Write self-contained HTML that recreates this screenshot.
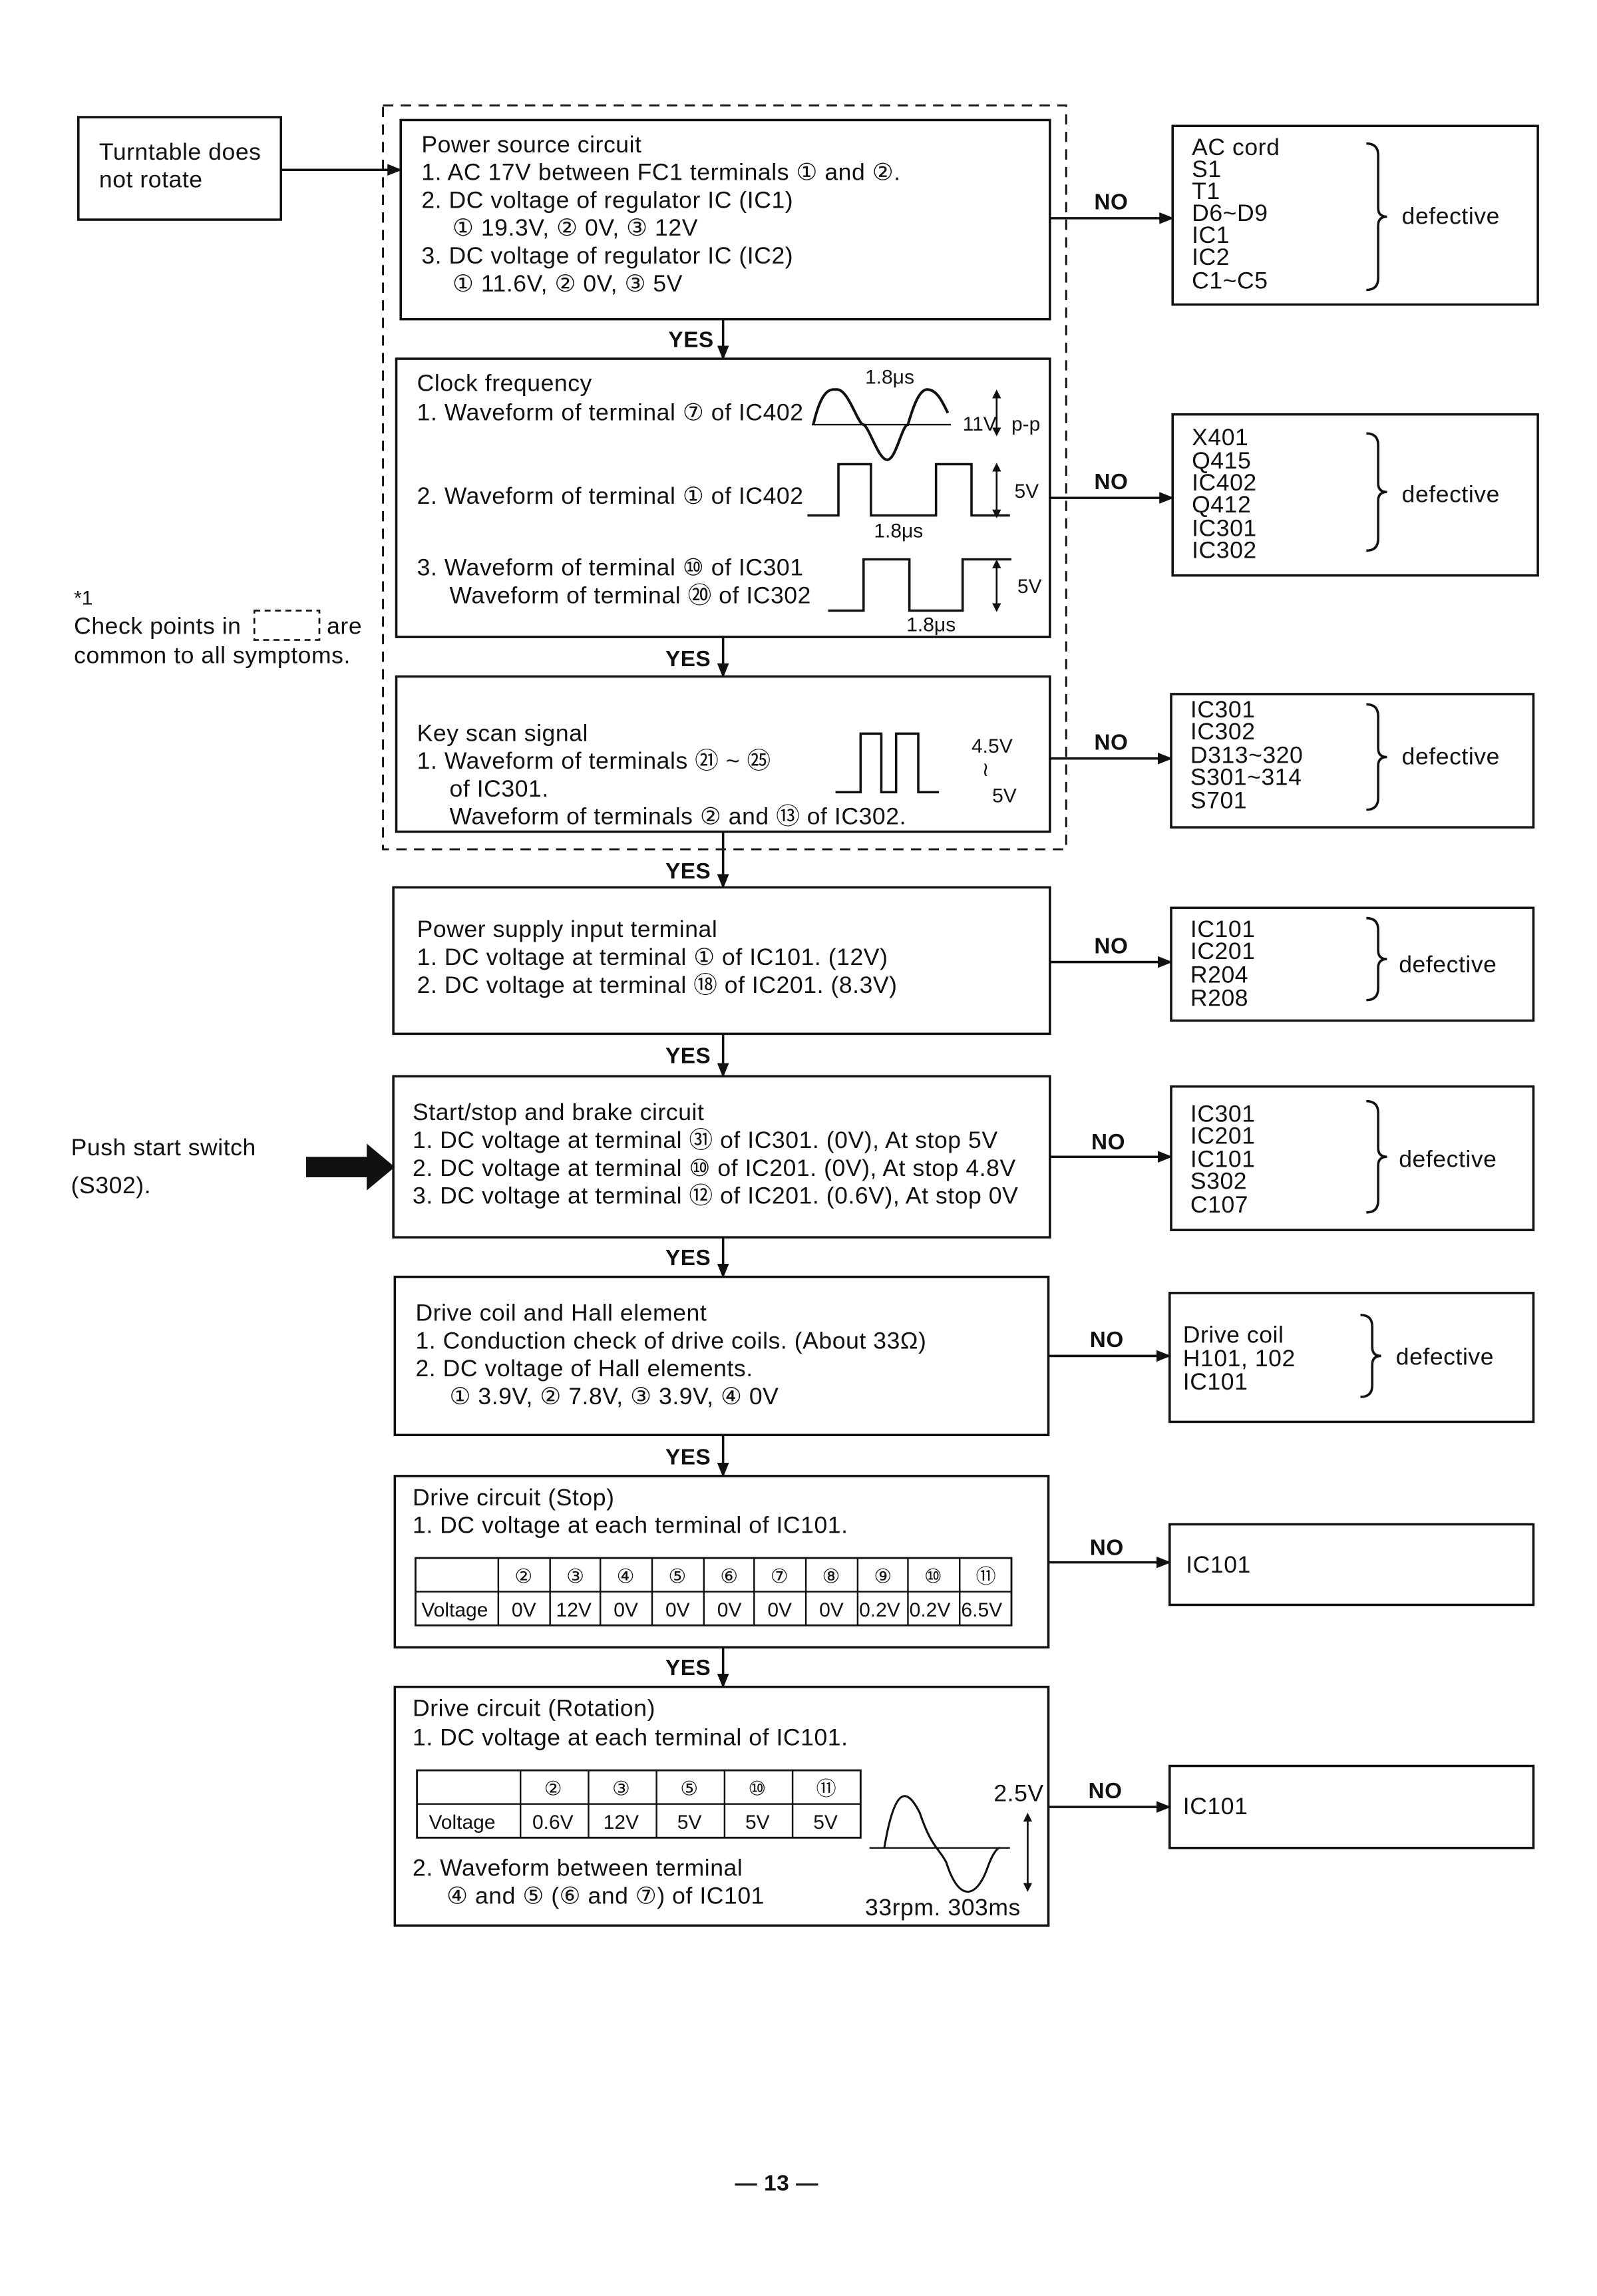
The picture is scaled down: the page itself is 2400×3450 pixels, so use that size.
<!DOCTYPE html>
<html><head><meta charset="utf-8"><style>
html,body{margin:0;padding:0;background:#fff}
svg{display:block}
text{font-family:"Liberation Sans","DejaVu Sans",sans-serif;font-size:16px;letter-spacing:0.25px;fill:#111}
.b{font-weight:bold;font-size:15px}
.s{font-size:13.5px;letter-spacing:0}
</style></head><body>
<svg width="2400" height="3450" viewBox="0 0 1080 1568" preserveAspectRatio="none" xml:space="preserve" xmlns="http://www.w3.org/2000/svg">
<defs><marker id="a" markerWidth="10" markerHeight="8" refX="9" refY="4" orient="auto" markerUnits="userSpaceOnUse"><path d="M0,0 L10,4 L0,8z" fill="#111"/></marker></defs>
<g fill="none" stroke="#111" stroke-width="1.6">
<rect x="259" y="72" width="462" height="508" stroke-dasharray="7,5" stroke-width="1.3"/>
<rect x="53" y="80" width="137" height="70"/>
<rect x="271" y="82" width="439" height="136"/>
<rect x="268" y="245" width="442" height="190"/>
<rect x="268" y="462" width="442" height="106"/>
<rect x="266" y="606" width="444" height="100"/>
<rect x="266" y="735" width="444" height="110"/>
<rect x="267" y="872" width="442" height="108"/>
<rect x="267" y="1008" width="442" height="117"/>
<rect x="267" y="1152" width="442" height="163"/>
<rect x="793" y="86" width="247" height="122"/>
<rect x="793" y="283" width="247" height="110"/>
<rect x="792" y="474" width="245" height="91"/>
<rect x="792" y="620" width="245" height="77"/>
<rect x="792" y="742" width="245" height="98"/>
<rect x="791" y="883" width="246" height="88"/>
<rect x="791" y="1041" width="246" height="55"/>
<rect x="791" y="1206" width="246" height="56"/>
<line x1="190" y1="116" x2="271" y2="116" marker-end="url(#a)"/>
<line x1="710" y1="149" x2="793" y2="149" marker-end="url(#a)"/>
<line x1="710" y1="340" x2="793" y2="340" marker-end="url(#a)"/>
<line x1="710" y1="518" x2="792" y2="518" marker-end="url(#a)"/>
<line x1="710" y1="657" x2="792" y2="657" marker-end="url(#a)"/>
<line x1="710" y1="790" x2="792" y2="790" marker-end="url(#a)"/>
<line x1="709" y1="926" x2="791" y2="926" marker-end="url(#a)"/>
<line x1="709" y1="1067" x2="791" y2="1067" marker-end="url(#a)"/>
<line x1="709" y1="1234" x2="791" y2="1234" marker-end="url(#a)"/>
<line x1="489" y1="218" x2="489" y2="245" marker-end="url(#a)"/>
<line x1="489" y1="435" x2="489" y2="462" marker-end="url(#a)"/>
<line x1="489" y1="568" x2="489" y2="606" marker-end="url(#a)"/>
<line x1="489" y1="706" x2="489" y2="735" marker-end="url(#a)"/>
<line x1="489" y1="845" x2="489" y2="872" marker-end="url(#a)"/>
<line x1="489" y1="980" x2="489" y2="1008" marker-end="url(#a)"/>
<line x1="489" y1="1125" x2="489" y2="1152" marker-end="url(#a)"/>
<path d="M924,98 q8,0 8,8 v36 q0,6 6,6 q-6,0 -6,6 v36 q0,8 -8,8"/>
<path d="M924,296 q8,0 8,8 v26 q0,6 6,6 q-6,0 -6,6 v26 q0,8 -8,8"/>
<path d="M924,481 q8,0 8,8 v22 q0,6 6,6 q-6,0 -6,6 v22 q0,8 -8,8"/>
<path d="M924,627 q8,0 8,8 v14 q0,6 6,6 q-6,0 -6,6 v14 q0,8 -8,8"/>
<path d="M924,752 q8,0 8,8 v24 q0,6 6,6 q-6,0 -6,6 v24 q0,8 -8,8"/>
<path d="M920,898 q8,0 8,8 v14 q0,6 6,6 q-6,0 -6,6 v14 q0,8 -8,8"/>
<rect x="172" y="417" width="44" height="20" stroke-dasharray="4,3" stroke-width="1.2"/>
<line x1="549" y1="290" x2="643" y2="290" stroke-width="1.1"/>
<path d="M550,290 C556,264 562,266 566,266 C574,266 580,290 584,290 C588,292 594,314 600,314 C606,314 610,290 614,290 C618,276 622,266 627,266 C634,266 638,276 641,282" stroke-width="1.8"/>
<path d="M546,352 H567 V317 H589 V352 H633 V317 H657 V352 H683" stroke-width="1.6"/>
<path d="M560,417 H584 V382 H615 V417 H651 V382 H684" stroke-width="1.6"/>
<path d="M565,541 H582 V501 H596 V541 H606 V501 H621 V541 H635" stroke-width="1.6"/>
<line x1="588" y1="1262" x2="683" y2="1262" stroke-width="1.1"/>
<path d="M598,1262 C605,1220 613,1220 622,1238 C630,1262 635,1262 640,1272 C648,1298 660,1298 668,1275 C672,1264 675,1262 676,1262" stroke-width="1.4"/>
<line x1="674" y1="268" x2="674" y2="296" stroke-width="1.2"/>
<line x1="674" y1="318" x2="674" y2="352" stroke-width="1.2"/>
<line x1="674" y1="384" x2="674" y2="416" stroke-width="1.2"/>
<line x1="695" y1="1240" x2="695" y2="1290" stroke-width="1.2"/>
<rect x="281" y="1064" width="403" height="46" stroke-width="1.3"/>
<line x1="281" y1="1087" x2="684" y2="1087" stroke-width="1.1"/>
<g stroke-width="1.1">
<line x1="337" y1="1064" x2="337" y2="1110"/><line x1="372" y1="1064" x2="372" y2="1110"/><line x1="406" y1="1064" x2="406" y2="1110"/><line x1="441" y1="1064" x2="441" y2="1110"/><line x1="476" y1="1064" x2="476" y2="1110"/><line x1="510" y1="1064" x2="510" y2="1110"/><line x1="545" y1="1064" x2="545" y2="1110"/><line x1="580" y1="1064" x2="580" y2="1110"/><line x1="614" y1="1064" x2="614" y2="1110"/><line x1="649" y1="1064" x2="649" y2="1110"/>
</g>
<rect x="282" y="1209" width="300" height="46" stroke-width="1.3"/>
<line x1="282" y1="1232" x2="582" y2="1232" stroke-width="1.1"/>
<g stroke-width="1.1">
<line x1="352" y1="1209" x2="352" y2="1255"/><line x1="398" y1="1209" x2="398" y2="1255"/><line x1="444" y1="1209" x2="444" y2="1255"/><line x1="490" y1="1209" x2="490" y2="1255"/><line x1="536" y1="1209" x2="536" y2="1255"/>
</g>
</g>
<path d="M207,790 H248 V781 L267,797 L248,813 V804 H207z" fill="#111"/>
<g fill="#111">
<path d="M674,266 l-3,6 h6z"/><path d="M674,298 l-3,-6 h6z"/>
<path d="M674,316 l-3,6 h6z"/><path d="M674,354 l-3,-6 h6z"/>
<path d="M674,382 l-3,6 h6z"/><path d="M674,418 l-3,-6 h6z"/>
<path d="M695,1238 l-3,6 h6z"/><path d="M695,1292 l-3,-6 h6z"/>
</g>

<text x="67" y="109">Turntable does</text>
<text x="67" y="128">not rotate</text>

<text x="285" y="104">Power source circuit</text>
<text x="285" y="123">1.  AC 17V between FC1 terminals ① and ②.</text>
<text x="285" y="142">2.  DC voltage of regulator IC (IC1)</text>
<text x="306" y="161">① 19.3V, ② 0V, ③ 12V</text>
<text x="285" y="180">3.  DC voltage of regulator IC (IC2)</text>
<text x="306" y="199">① 11.6V, ② 0V, ③ 5V</text>

<text x="282" y="267">Clock frequency</text>
<text x="282" y="287">1.  Waveform of terminal ⑦ of IC402</text>
<text x="282" y="344">2.  Waveform of terminal ① of IC402</text>
<text x="282" y="393">3.  Waveform of terminal ⑩ of IC301</text>
<text x="304" y="412">Waveform of terminal ⑳ of IC302</text>
<text x="585" y="262" class="s">1.8μs</text>
<text x="651" y="294" class="s">11V</text><text x="684" y="294" class="s">p-p</text>
<text x="686" y="340" class="s">5V</text>
<text x="591" y="367" class="s">1.8μs</text>
<text x="688" y="405" class="s">5V</text>
<text x="613" y="431" class="s">1.8μs</text>

<text x="282" y="506">Key scan signal</text>
<text x="282" y="525">1.  Waveform of terminals ㉑ ~ ㉕</text>
<text x="304" y="544">of IC301.</text>
<text x="304" y="563">Waveform of terminals ② and ⑬ of IC302.</text>
<text x="657" y="514" class="s">4.5V</text>
<text x="664" y="530" class="s">≀</text>
<text x="671" y="548" class="s">5V</text>

<text x="50" y="413" class="s">*1</text>
<text x="50" y="433">Check points in</text><text x="221" y="433">are</text>
<text x="50" y="453">common to all symptoms.</text>

<text x="282" y="640">Power supply input terminal</text>
<text x="282" y="659">1.  DC voltage at terminal ① of IC101. (12V)</text>
<text x="282" y="678">2.  DC voltage at terminal ⑱ of IC201. (8.3V)</text>

<text x="279" y="765">Start/stop and brake circuit</text>
<text x="279" y="784">1.  DC voltage at terminal ㉛ of IC301. (0V), At stop 5V</text>
<text x="279" y="803">2.  DC voltage at terminal ⑩ of IC201. (0V), At stop 4.8V</text>
<text x="279" y="822">3.  DC voltage at terminal ⑫ of IC201. (0.6V), At stop 0V</text>
<text x="48" y="789">Push start switch</text>
<text x="48" y="815">(S302).</text>

<text x="281" y="902">Drive coil and Hall element</text>
<text x="281" y="921">1.  Conduction check of drive coils. (About 33Ω)</text>
<text x="281" y="940">2.  DC voltage of Hall elements.</text>
<text x="304" y="959">① 3.9V, ② 7.8V, ③ 3.9V, ④ 0V</text>

<text x="279" y="1028">Drive circuit (Stop)</text>
<text x="279" y="1047">1.  DC voltage at each terminal of IC101.</text>
<text x="348" y="1081" class="s">②</text><text x="383" y="1081" class="s">③</text><text x="417" y="1081" class="s">④</text><text x="452" y="1081" class="s">⑤</text><text x="487" y="1081" class="s">⑥</text><text x="521" y="1081" class="s">⑦</text><text x="556" y="1081" class="s">⑧</text><text x="591" y="1081" class="s">⑨</text><text x="625" y="1081" class="s">⑩</text><text x="660" y="1081" class="s">⑪</text>
<text x="285" y="1104" class="s">Voltage</text>
<text x="346" y="1104" class="s">0V</text><text x="376" y="1104" class="s">12V</text><text x="415" y="1104" class="s">0V</text><text x="450" y="1104" class="s">0V</text><text x="485" y="1104" class="s">0V</text><text x="519" y="1104" class="s">0V</text><text x="554" y="1104" class="s">0V</text><text x="581" y="1104" class="s">0.2V</text><text x="615" y="1104" class="s">0.2V</text><text x="650" y="1104" class="s">6.5V</text>

<text x="279" y="1172">Drive circuit (Rotation)</text>
<text x="279" y="1192">1.  DC voltage at each terminal of IC101.</text>
<text x="368" y="1226" class="s">②</text><text x="414" y="1226" class="s">③</text><text x="460" y="1226" class="s">⑤</text><text x="506" y="1226" class="s">⑩</text><text x="552" y="1226" class="s">⑪</text>
<text x="290" y="1249" class="s">Voltage</text>
<text x="360" y="1249" class="s">0.6V</text><text x="408" y="1249" class="s">12V</text><text x="458" y="1249" class="s">5V</text><text x="504" y="1249" class="s">5V</text><text x="550" y="1249" class="s">5V</text>
<text x="279" y="1281">2.  Waveform between terminal</text>
<text x="302" y="1300">④ and ⑤ (⑥ and ⑦) of IC101</text>
<text x="672" y="1230">2.5V</text>
<text x="585" y="1308">33rpm. 303ms</text>

<text x="740" y="143" class="b">NO</text>
<text x="740" y="334" class="b">NO</text>
<text x="740" y="512" class="b">NO</text>
<text x="740" y="651" class="b">NO</text>
<text x="738" y="785" class="b">NO</text>
<text x="737" y="920" class="b">NO</text>
<text x="737" y="1062" class="b">NO</text>
<text x="736" y="1228" class="b">NO</text>
<text x="452" y="237" class="b">YES</text>
<text x="450" y="455" class="b">YES</text>
<text x="450" y="600" class="b">YES</text>
<text x="450" y="726" class="b">YES</text>
<text x="450" y="864" class="b">YES</text>
<text x="450" y="1000" class="b">YES</text>
<text x="450" y="1144" class="b">YES</text>

<text x="806" y="106">AC cord</text><text x="806" y="121">S1</text><text x="806" y="136">T1</text><text x="806" y="151">D6~D9</text><text x="806" y="166">IC1</text><text x="806" y="181">IC2</text><text x="806" y="197">C1~C5</text>
<text x="948" y="153">defective</text>
<text x="806" y="304">X401</text><text x="806" y="320">Q415</text><text x="806" y="335">IC402</text><text x="806" y="350">Q412</text><text x="806" y="366">IC301</text><text x="806" y="381">IC302</text>
<text x="948" y="343">defective</text>
<text x="805" y="490">IC301</text><text x="805" y="505">IC302</text><text x="805" y="521">D313~320</text><text x="805" y="536">S301~314</text><text x="805" y="552">S701</text>
<text x="948" y="522">defective</text>
<text x="805" y="640">IC101</text><text x="805" y="655">IC201</text><text x="805" y="671">R204</text><text x="805" y="687">R208</text>
<text x="946" y="664">defective</text>
<text x="805" y="766">IC301</text><text x="805" y="781">IC201</text><text x="805" y="797">IC101</text><text x="805" y="812">S302</text><text x="805" y="828">C107</text>
<text x="946" y="797">defective</text>
<text x="800" y="917">Drive coil</text><text x="800" y="933">H101, 102</text><text x="800" y="949">IC101</text>
<text x="944" y="932">defective</text>
<text x="802" y="1074">IC101</text>
<text x="800" y="1239">IC101</text>

<text x="497" y="1496" class="b">— 13 —</text>
</svg>
</body></html>
